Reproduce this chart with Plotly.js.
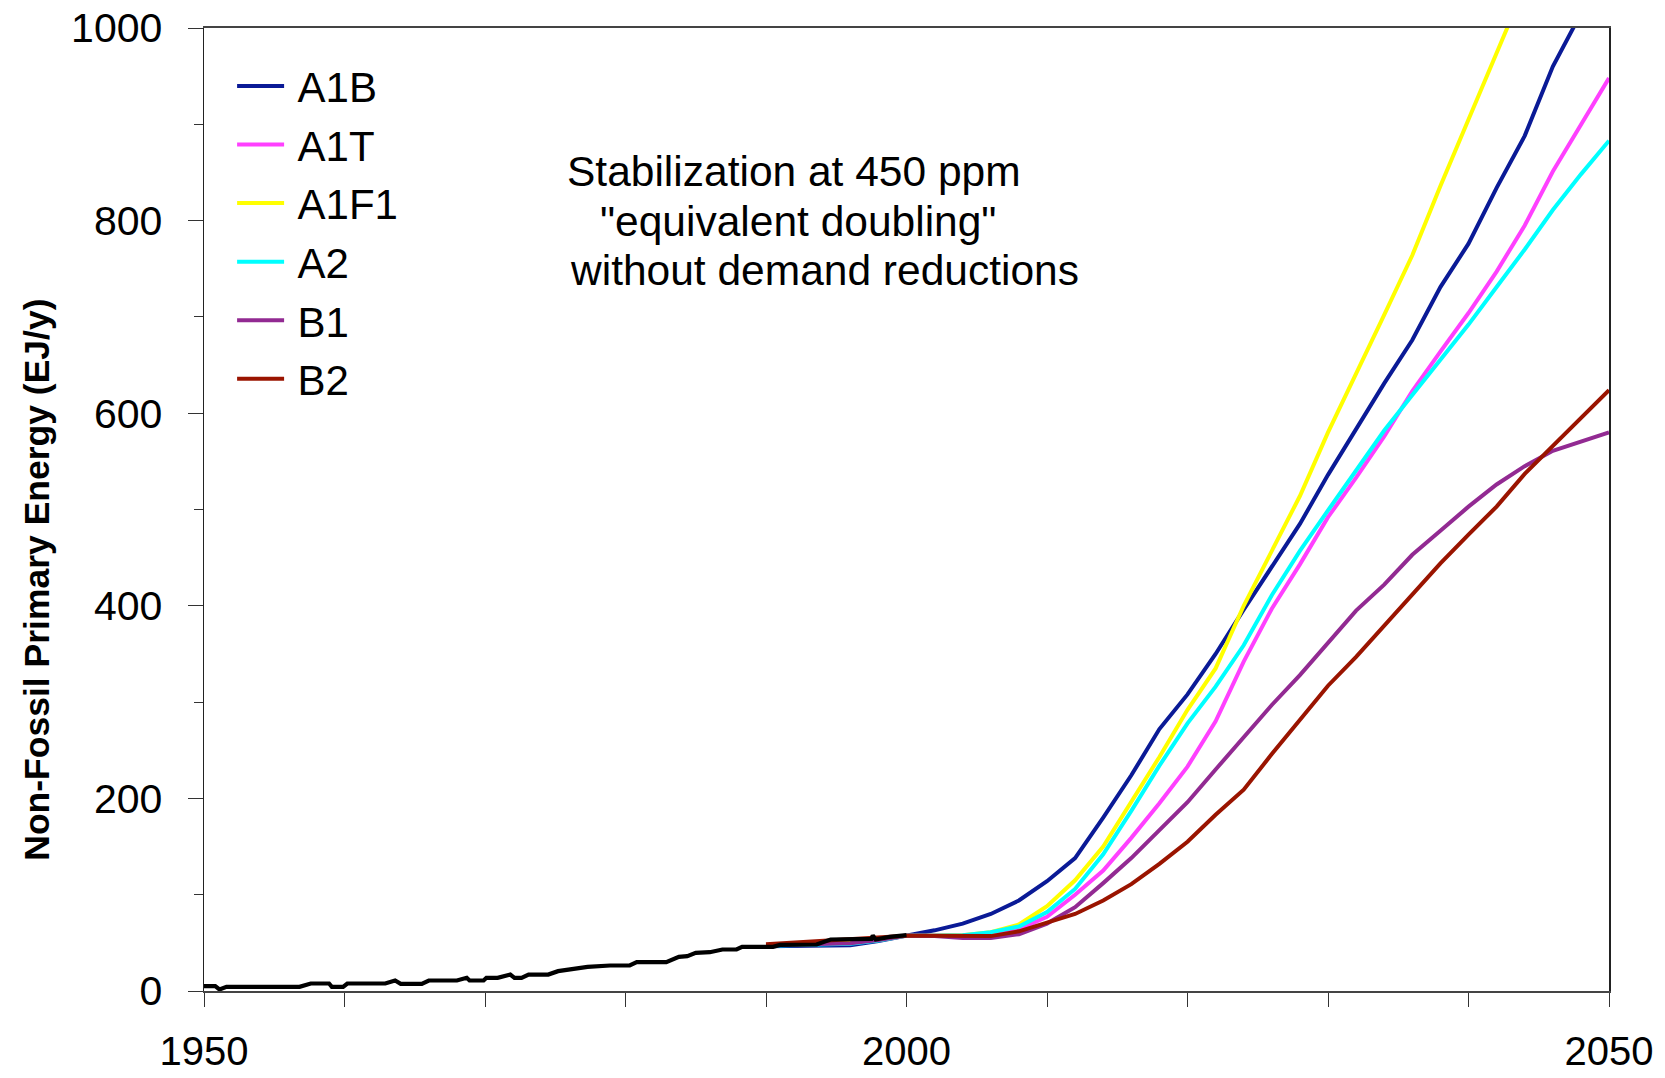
<!DOCTYPE html>
<html>
<head>
<meta charset="utf-8">
<script src="https://cdn.plot.ly/plotly-3.0.1.min.js"></script>
<style>
  html, body { margin: 0; padding: 0; background: #ffffff; }
  #chart { width: 1665px; height: 1078px; }
</style>
</head>
<body>
<div id="chart"></div>
<script>
// ---------- DATA ----------
const histYears = [1950, 1950.8, 1951.1, 1951.6, 1956.8, 1957.6, 1958.9, 1959.1, 1959.9, 1960.2,
  1962.9, 1963.6, 1964.0, 1965.5, 1966.0, 1968.0, 1968.7, 1968.9, 1969.9, 1970.1,
  1970.9, 1971.8, 1972.1, 1972.6, 1973.1, 1974.5, 1975.2, 1976.0, 1976.8, 1977.3,
  1978.9, 1980.3, 1980.8, 1982.9, 1983.8, 1984.4, 1985.0, 1986.0, 1986.9, 1987.9,
  1988.3, 1990.5, 1991.0, 1993.6, 1994.6, 1997.5, 1997.6, 1997.8, 1998.8, 2000.0];
const histValues = [5, 5, 1.6, 4.3, 4.3, 7.8, 7.8, 4.3, 4.3, 7.8,
  7.8, 10.9, 7.4, 7.4, 10.9, 10.9, 13.7, 10.9, 10.9, 13.7,
  13.7, 17.1, 13.7, 13.7, 17.1, 17.1, 20.6, 22.5, 23.5, 25.1,
  26.5, 26.5, 29.9, 29.9, 35.5, 36.2, 39.6, 40.3, 43.1, 43.1,
  45.9, 45.9, 47.9, 48.3, 53.5, 54.2, 57.6, 53.5, 56.2, 58.0];

const scenarioYears = [1990, 1993, 1996, 1998, 2000, 2002, 2004, 2006, 2008, 2010,
  2012, 2014, 2016, 2018, 2020, 2022, 2024, 2026, 2028, 2030,
  2032, 2034, 2036, 2038, 2040, 2042, 2044, 2046, 2048, 2050];

const A1B  = [46.5, 47, 47.5, 52, 57.5, 63, 70, 80, 94, 114,
  138, 180, 224, 272, 308, 350, 396, 440, 485, 536,
  584, 631, 676, 731, 776, 834, 888, 960, 1015, 1080];
const A1T  = [47.5, 48, 49.5, 53, 57.5, 57.5, 57, 58, 64, 77,
  100, 125, 159, 195, 233, 280, 342, 397, 443, 492,
  533, 576, 623, 664, 704, 747, 795, 851, 899, 948];
const A1F1 = [47.5, 48.5, 50, 53, 57.5, 57.5, 58, 61, 69, 88,
  115, 150, 197, 243, 292, 335, 400, 456, 514, 580,
  640, 702, 764, 836, 905, 975, 1045, 1110, 1180, 1250];
const A2   = [47, 47.5, 49, 52.5, 57.5, 57.5, 58, 61, 67, 82,
  106, 142, 187, 234, 278, 316, 359, 411, 457, 499,
  540, 582, 619, 655, 692, 731, 770, 811, 848, 883];
const B1   = [47.5, 48, 49.5, 53, 57.5, 57, 55, 55, 59, 70,
  87, 112, 138, 167, 196, 230, 264, 297, 328, 362,
  395, 422, 453, 478, 503, 526, 545, 561, 571, 580];
const B2   = [48.5, 51, 54, 56, 57.5, 57.5, 57.5, 57, 62, 71,
  80, 94, 111, 132, 155, 183, 209, 246, 281, 317,
  347, 379, 412, 444, 474, 503, 537, 566, 594, 624];

const seriesNames  = ['A1B', 'A1T', 'A1F1', 'A2', 'B1', 'B2'];
const seriesValues = [A1B, A1T, A1F1, A2, B1, B2];
const seriesColors = ['#0A1A96', '#FF40FF', '#FFFF00', '#00FFFF', '#922A92', '#9A1400'];

const xTickVals = [1950, 2000, 2050];
const xTickText = ['1950', '2000', '2050'];
const yTitle = 'Non-Fossil Primary Energy (EJ/y)';
const noteLines = ['Stabilization at 450 ppm', '"equivalent doubling"', 'without demand reductions'];

// ---------- CHART ----------
const FONT = 'Arial, "Liberation Sans", Helvetica, sans-serif';

const traces = seriesNames.map((name, i) => ({
  type: 'scatter', mode: 'lines', name: '\u2009' + name,
  x: scenarioYears, y: seriesValues[i],
  line: { color: seriesColors[i], width: 4 },
  legendgroup: name,
  hoverinfo: 'x+y+name'
}));
traces.push({
  type: 'scatter', mode: 'lines', name: 'Historical',
  x: histYears, y: histValues,
  line: { color: '#000000', width: 4.2 },
  showlegend: false
});

// plot area in pixels: left 204, right 1609, top 28, bottom 991.5
const L = 204, R = 1609, T = 28, B = 991.5;
const px = v => (v - L) / (R - L);
const py = v => (B - v) / (B - T);

const annotations = [
  { text: noteLines[0], x: px(565), y: py(172) },
  { text: noteLines[1], x: px(598), y: py(222) },
  { text: noteLines[2], x: px(568), y: py(271) }
].map(a => Object.assign(a, {
  xref: 'paper', yref: 'paper', xanchor: 'left', yanchor: 'middle',
  showarrow: false, font: { family: FONT, size: 42.5, color: '#000' }
}));
annotations.push({
  text: '<b>' + yTitle + '</b>', textangle: -90,
  xref: 'paper', yref: 'paper', x: px(37), y: py(580),
  xanchor: 'center', yanchor: 'middle', showarrow: false,
  font: { family: FONT, size: 35.5, color: '#000' }
});

const layout = {
  width: 1665, height: 1078,
  margin: { l: L, r: 1665 - R, t: T, b: 1078 - B, pad: 0 },
  paper_bgcolor: '#ffffff', plot_bgcolor: '#ffffff',
  font: { family: FONT, color: '#000' },
  showlegend: true,
  legend: {
    x: 0.02, y: 0.975, xanchor: 'left', yanchor: 'top',
    font: { family: FONT, size: 42, color: '#000' },
    bgcolor: 'rgba(0,0,0,0)', borderwidth: 0,
    itemwidth: 47, traceorder: 'grouped', tracegroupgap: 1
  },
  xaxis: {
    range: [1950, 2050], tickmode: 'array', tickvals: xTickVals, ticktext: xTickText,
    ticks: 'outside', ticklen: 14, tickwidth: 1, tickcolor: '#333',
    showline: true, mirror: true, linecolor: '#444', linewidth: 2,
    showgrid: false, zeroline: false,
    tickfont: { family: FONT, size: 40, color: '#000' },
    ticklabelstandoff: 10,
    minor: { tickmode: 'linear', tick0: 1950, dtick: 10, ticks: 'outside', ticklen: 14, tickwidth: 1, tickcolor: '#333', showgrid: false }
  },
  yaxis: {
    range: [0, 1000], tickmode: 'linear', tick0: 0, dtick: 200,
    ticks: 'outside', ticklen: 15, tickwidth: 1, tickcolor: '#333',
    showline: true, mirror: true, linecolor: '#222', linewidth: 1.5,
    showgrid: false, zeroline: false,
    tickfont: { family: FONT, size: 41, color: '#000' },
    ticklabelstandoff: 17,
    minor: { tickmode: 'linear', tick0: 0, dtick: 100, ticks: 'outside', ticklen: 9, tickwidth: 1, tickcolor: '#333', showgrid: false }
  },
  annotations: annotations
};

Plotly.newPlot('chart', traces, layout, { staticPlot: true, displayModeBar: false });
</script>
</body>
</html>
